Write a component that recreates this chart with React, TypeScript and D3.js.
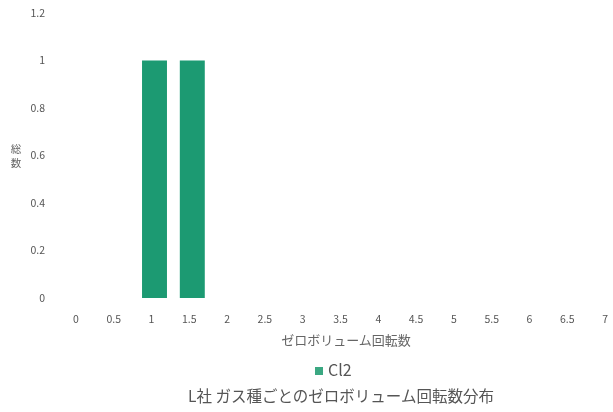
import React from "react";
import * as d3 from "d3";

const categories = ["0", "0.5", "1", "1.5", "2", "2.5", "3", "3.5", "4", "4.5", "5", "5.5", "6", "6.5", "7"];
const cl2Values = [0, 0, 1, 1, 0, 0, 0, 0, 0, 0, 0, 0, 0, 0, 0];
const yTicks = [0, 0.2, 0.4, 0.6, 0.8, 1, 1.2];
const seriesName = "Cl2";
const xTitle = "ゼロボリューム回転数";
const yTitle = ["総", "数"];
const chartTitle = "L社 ガス種ごとのゼロボリューム回転数分布";

const W = 613;
const H = 412;
const font = "'Noto Sans CJK JP', 'Noto Sans', sans-serif";

export default function App() {
  const x = d3.scaleBand<string>().domain(categories).range([57, 624]).paddingInner(0.34).paddingOuter(0.17);
  const y = d3.scaleLinear().domain([0, 1.2]).range([298, 13]);
  const fmt = (v: number) => String(+v.toFixed(1));
  const center = (c: string) => x(c)! + x.bandwidth() / 2;

  return (
    <svg
      width={W}
      height={H}
      style={{ position: "fixed", left: 0, top: 0, background: "#fff" }}
      fontFamily={font}
    >
      <defs>
        <filter id="soft">
          <feGaussianBlur stdDeviation="0.45" />
        </filter>
      </defs>
      <g filter="url(#soft)">
        {yTicks.map((t) => (
          <text key={t} x={45} y={y(t)} dy="0.35em" textAnchor="end" fontSize={10.5} fill="#555">
            {fmt(t)}
          </text>
        ))}
        {yTitle.map((c, i) => (
          <text key={c} x={16} y={149 + i * 14} dy="0.35em" textAnchor="middle" fontSize={10.5} fill="#666">
            {c}
          </text>
        ))}
        {categories.map((c, i) => (
          <g key={c}>
            {cl2Values[i] > 0 && (
              <rect
                x={x(c)! + 3}
                y={y(cl2Values[i])}
                width={x.bandwidth()}
                height={y(0) - y(cl2Values[i])}
                fill="#1a9a72"
              />
            )}
            <text x={center(c)} y={319} dy="0.35em" textAnchor="middle" fontSize={10.5} fill="#555">
              {c}
            </text>
          </g>
        ))}
        <text x={346} y={340} dy="0.35em" textAnchor="middle" fontSize={13} fill="#666">
          {xTitle}
        </text>
        <rect x={315} y={367} width={8} height={8} fill="#3aa882" />
        <text x={328} y={370} dy="0.35em" fontSize={16} fill="#555">
          {seriesName}
        </text>
        <text x={341} y={397} dy="0.35em" textAnchor="middle" fontSize={15.5} fill="#555">
          {chartTitle}
        </text>
      </g>
    </svg>
  );
}
